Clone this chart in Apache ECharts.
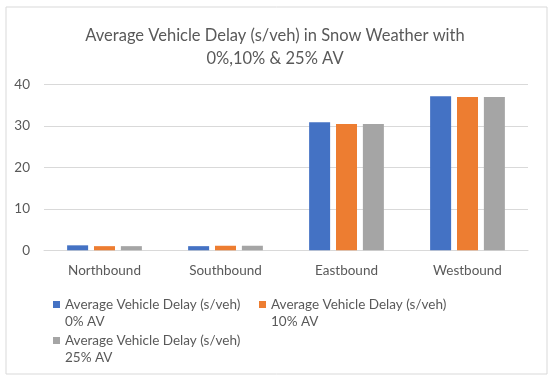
<!DOCTYPE html>
<html><head><meta charset="utf-8">
<script src="https://cdn.jsdelivr.net/npm/echarts@6/dist/echarts.min.js"></script>
<style>html,body{margin:0;padding:0;background:#fff}#c{width:550px;height:379px}</style>
</head><body><div id="c"></div>
<script>
const categories = ['Northbound', 'Southbound', 'Eastbound', 'Westbound'];
const seriesNames = [
  'Average Vehicle Delay (s/veh)\n0% AV',
  'Average Vehicle Delay (s/veh)\n10% AV',
  'Average Vehicle Delay (s/veh)\n25% AV'
];
const av0 = [1.2, 1.0, 30.9, 37.2];
const av10 = [1.0, 1.1, 30.5, 37.0];
const av25 = [1.0, 1.1, 30.5, 37.0];
const colors = ['#4472c4', '#ed7d31', '#a5a5a5'];
const titleText = 'Average Vehicle Delay (s/veh) in Snow Weather with\n0%,10% & 25% AV';

const FONT = 'Lato';
const TXT = '#595959';
const icon = 'path://M0,0h7v7h-7z M0,23.99h0.01v0.01h-0.01z';
function legendAt(name, left, top) {
  return {
    data: [name], left: left, top: top, orient: 'horizontal',
    icon: icon, itemWidth: 7, itemHeight: 24, itemGap: 0,
    textStyle: { color: TXT, fontFamily: FONT, fontSize: 13.5, lineHeight: 17 }
  };
}
const chart = echarts.init(document.getElementById('c'), null, { renderer: 'canvas' });
chart.setOption({
  animation: false,
  backgroundColor: '#fff',
  title: {
    text: titleText, left: 'center', top: 19,
    textStyle: { color: TXT, fontFamily: FONT, fontSize: 16.5, fontWeight: 'normal', lineHeight: 23 }
  },
  legend: [
    legendAt(seriesNames[0], 48, 291),
    legendAt(seriesNames[1], 254, 291),
    legendAt(seriesNames[2], 48, 327)
  ],
  grid: { left: 44, right: 22, top: 84.7, bottom: 128.7, containLabel: false },
  xAxis: {
    type: 'category', data: categories,
    axisLine: { lineStyle: { color: '#d9d9d9' } },
    axisTick: { show: false },
    axisLabel: { color: TXT, fontFamily: FONT, fontSize: 13.5, margin: 13 }
  },
  yAxis: {
    type: 'value', min: 0, max: 40, interval: 10,
    axisLine: { show: false }, axisTick: { show: false },
    splitLine: { lineStyle: { color: '#d9d9d9' } },
    axisLabel: { color: TXT, fontFamily: FONT, fontSize: 13.5, margin: 14 }
  },
  series: [av0, av10, av25].map((d, i) => ({
    type: 'bar', name: seriesNames[i], data: d,
    barWidth: 21, barGap: '28%',
    itemStyle: { color: colors[i] }
  })),
  graphic: [{
    type: 'rect', left: 3.5, top: 4.5, silent: true, z: -10,
    shape: { width: 541, height: 367 },
    style: { fill: 'none', stroke: '#d9d9d9', lineWidth: 1 }
  }]
});
</script></body></html>
